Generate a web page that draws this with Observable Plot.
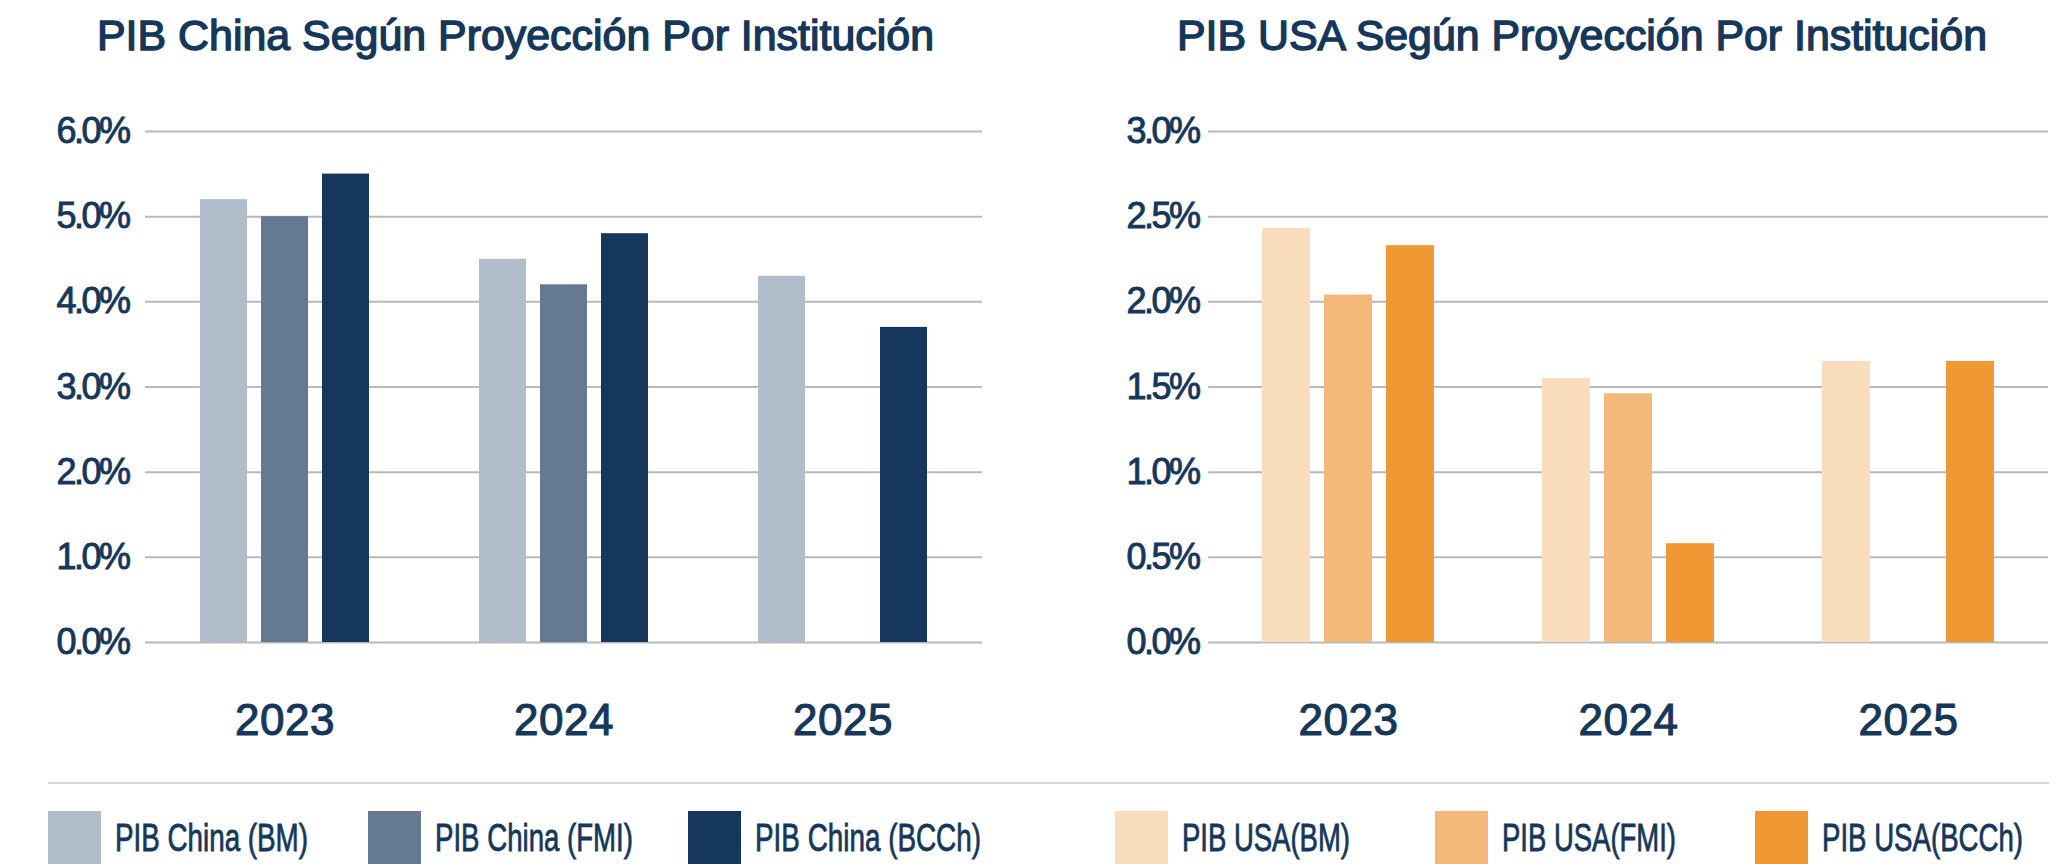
<!DOCTYPE html>
<html><head><meta charset="utf-8">
<script src="https://cdn.jsdelivr.net/npm/d3@7"></script>
<script src="https://cdn.jsdelivr.net/npm/@observablehq/plot@0.6"></script>
<style>
html,body{margin:0;padding:0;background:#fff;}
#root{position:relative;width:2058px;height:864px;overflow:hidden;font-family:"Liberation Sans",Arial,sans-serif;color:#15375a;}
.abs{position:absolute;}
.fit{position:absolute;white-space:nowrap;}
.fit span{display:inline-block;transform-origin:0 0;}
svg{overflow:visible;}
</style></head><body><div id="root"></div>
<script>
// ---- data ----
const years = ["2023", "2024", "2025"];

const chinaSeries = ["PIB China (BM)", "PIB China (FMI)", "PIB China (BCCh)"];
const chinaBM   = [5.2, 4.5, 4.3];
const chinaFMI  = [5.0, 4.2, null];
const chinaBCCh = [5.5, 4.8, 3.7];
const chinaColors = ["#b1bdca", "#657a91", "#15375b"];
const chinaTicks = [0, 1, 2, 3, 4, 5, 6];

const usaSeries = ["PIB USA(BM)", "PIB USA(FMI)", "PIB USA(BCCh)"];
const usaBM   = [2.43, 1.55, 1.65];
const usaFMI  = [2.04, 1.46, null];
const usaBCCh = [2.33, 0.58, 1.65];
const usaColors = ["#f9ddbd", "#f4b97a", "#ef9834"];
const usaTicks = [0, 0.5, 1, 1.5, 2, 2.5, 3];

const chinaTitle = "PIB China Según Proyección Por Institución";
const usaTitle = "PIB USA Según Proyección Por Institución";

const root = document.getElementById("root");
const FONT = '"Liberation Sans", Arial, sans-serif';
const NAVY = "#15375a";

function fitText(text, left, top, size, weight, target, strokeW) {
  const d = document.createElement("div");
  d.className = "fit";
  d.style.left = left + "px";
  d.style.top = top + "px";
  d.style.fontSize = size + "px";
  d.style.lineHeight = size + "px";
  d.style.fontWeight = weight;
  if (strokeW) d.style.webkitTextStroke = strokeW + "px " + NAVY;
  const s = document.createElement("span");
  s.textContent = text;
  d.appendChild(s);
  root.appendChild(d);
  const w = s.getBoundingClientRect().width;
  if (w > 0) s.style.transform = `scaleX(${target / w})`;
}

function makeChart({series, values, colors, ticks, marginLeft, marginRight, tickPadding, left}) {
  const data = [];
  series.forEach((s, i) => years.forEach((yr, j) => {
    const v = values[i][j];
    if (v != null) data.push({year: yr, series: s, value: v});
  }));
  const yMax = ticks[ticks.length - 1];
  const plot = Plot.plot({
    width: 1029, height: 784,
    marginTop: 131, marginBottom: 142, marginLeft, marginRight,
    style: {fontFamily: FONT, fontSize: "36px", color: NAVY, background: "transparent", overflow: "visible"},
    fx: {domain: years, padding: 0, axis: "bottom", label: null, tickSize: 0, tickPadding: 61},
    x: {domain: series, axis: null, paddingInner: 0.226, paddingOuter: 0.866},
    y: {domain: [0, yMax], ticks: ticks, tickFormat: d => d.toFixed(1) + "%", tickSize: 0, tickPadding, label: null},
    color: {domain: series, range: colors},
    marks: [
      Plot.ruleY(ticks, {stroke: "#b9b9b9", strokeWidth: 2}),
      Plot.barY(data, {fx: "year", x: "series", y: "value", fill: "series"})
    ]
  });
  plot.style.position = "absolute";
  plot.style.left = left + "px";
  plot.style.top = "0px";
  d3.select(plot).selectAll('g[aria-label="y-axis tick label"] text')
    .attr("letter-spacing", "-2.5")
    .attr("stroke", NAVY).attr("stroke-width", 0.9);
  d3.select(plot).selectAll('g[aria-label="fx-axis tick label"]')
    .attr("font-size", 44);
  d3.select(plot).selectAll('g[aria-label="fx-axis tick label"] text')
    .style("font-size", "44px").attr("letter-spacing", "0.5")
    .attr("stroke", NAVY).attr("stroke-width", 1.1);
  root.appendChild(plot);
}

makeChart({series: chinaSeries, values: [chinaBM, chinaFMI, chinaBCCh], colors: chinaColors,
  ticks: chinaTicks, marginLeft: 144, marginRight: 47, tickPadding: 17, left: 0});
makeChart({series: usaSeries, values: [usaBM, usaFMI, usaBCCh], colors: usaColors,
  ticks: usaTicks, marginLeft: 178, marginRight: 9, tickPadding: 10, left: 1029});

// titles
fitText(chinaTitle, 96.5, 14.5, 42, 400, 837, 1.4);
fitText(usaTitle, 1177, 14.5, 42, 400, 810, 1.4);

// separator
const sep = document.createElement("div");
sep.className = "abs";
Object.assign(sep.style, {left: "48px", top: "782px", width: "2001px", height: "2px", background: "#d5d5d5"});
root.appendChild(sep);

// legends
const legendX = [48, 368, 688, 1115, 1435, 1755];
const legendW = [193, 198, 226, 168, 174, 201];
const allSeries = chinaSeries.concat(usaSeries);
const allColors = chinaColors.concat(usaColors);
allSeries.forEach((s, i) => {
  const sw = document.createElement("div");
  sw.className = "abs";
  Object.assign(sw.style, {left: legendX[i] + "px", top: "811px", width: "53px", height: "54px", background: allColors[i]});
  root.appendChild(sw);
  fitText(s, legendX[i] + 67, 818, 39, 400, legendW[i], 0.8);
});
</script></body></html>
